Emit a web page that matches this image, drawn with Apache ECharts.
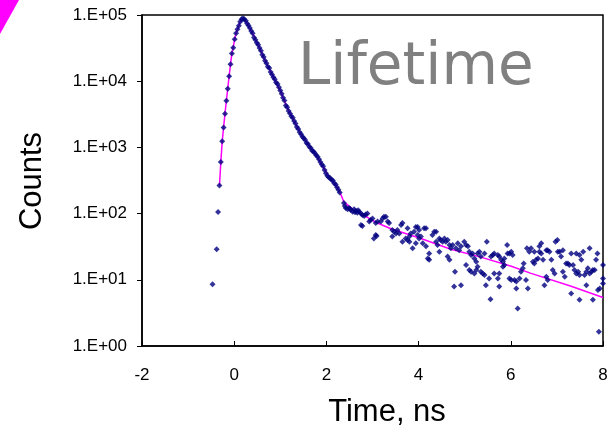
<!DOCTYPE html>
<html>
<head>
<meta charset="utf-8">
<script src="https://cdn.jsdelivr.net/npm/echarts@6/dist/echarts.min.js"></script>
<style>
html,body{margin:0;padding:0;background:#fff;}
#chart{width:611px;height:429px;}
</style>
</head>
<body>
<div id="chart"></div>
<script>
// ---- data (time in ns, counts) ----
const risePoints = [
  [-0.47,8.6],[-0.38,29],[-0.35,106],[-0.32,265],[-0.29,600],[-0.26,1235],[-0.23,2000],
  [-0.20,3220],[-0.17,5070],[-0.14,7700],[-0.11,11900],[-0.08,18000],[-0.05,26300],
  [-0.02,32100],[0.01,43000],[0.04,53000],[0.07,60800],[0.10,68900],[0.13,79200],
  [0.16,86100],[0.19,89100],[0.22,86000],[0.25,82000]
];
const decayPoints = [
  [0.28,74100],[0.31,69200],[0.34,63800],[0.37,57500],[0.40,53000],[0.43,45700],[0.46,42300],
  [0.49,38000],[0.52,35400],[0.55,31600],[0.58,28800],[0.61,25100],[0.64,23200],[0.67,20400],
  [0.70,18600],[0.73,16600],[0.76,15800],[0.79,13800],[0.82,12600],[0.85,11500],[0.88,10700],
  [0.91,9550],[0.94,9100],[0.97,8130],[1.00,7240],[1.03,6460],[1.06,5620],[1.09,5100],
  [1.12,4300],[1.15,4050],[1.18,3550],[1.21,3240],[1.24,2950],[1.27,2800],[1.30,2510],
  [1.33,2290],[1.36,2040],[1.39,1900],[1.42,1700],[1.45,1580],[1.48,1450],[1.51,1380],
  [1.54,1290],[1.57,1170],[1.60,1130],[1.63,1020],[1.66,977],[1.69,891],[1.72,870],
  [1.75,813],[1.78,760],[1.81,724],[1.84,661],[1.87,603],[1.90,550],[1.93,520],[1.96,457],
  [1.99,407],[2.02,372],[2.05,355],[2.08,345],[2.11,325],[2.14,316],[2.17,288],[2.20,275],
  [2.23,251],[2.26,229],[2.29,209]
];
const tailPoints = [
  [2.38,145],[2.40,130],[2.42,121],[2.46,116],[2.49,121],[2.51,118],[2.53,113],[2.57,107],
  [2.60,116],[2.62,105],[2.64,110],[2.67,103],[2.69,112],[2.71,107],[2.75,100],[2.75,67],
  [2.78,95],[2.78,65],[2.82,92],[2.85,97],[2.89,100],[2.93,76],[2.96,80],[3.00,84],[3.03,42],
  [3.07,72],[3.07,47.5],[3.09,46],[3.11,76],[3.18,76],[3.22,84],[3.25,90],[3.29,90],[3.33,76],
  [3.36,72],[3.43,56.5],[3.43,45],[3.47,53],[3.51,50],[3.54,56.5],[3.58,50],[3.62,67],[3.65,72],
  [3.65,37.5],[3.72,42],[3.76,40],[3.76,60],[3.80,37.5],[3.80,45],[3.83,50],[3.87,30],[3.90,53],
  [3.94,63],[3.94,35.5],[3.98,63],[3.98,47.5],[4.01,56.5],[4.01,42],[4.05,45],[4.09,35.5],
  [4.12,60],[4.16,60],[4.16,32],[4.20,21],[4.23,20],[4.23,25],[4.30,47.5],[4.34,53],[4.38,53],
  [4.38,37.5],[4.41,33.6],[4.45,42],[4.45,26.5],[4.48,40],[4.52,37.5],[4.56,42],[4.59,37.5],
  [4.63,40],[4.63,22.5],[4.67,33.6],[4.67,20],[4.70,30],
  [4.74,33.6],[4.77,7.9],[4.79,13.2],[4.81,30],[4.85,35.5],[4.88,28],[4.92,32],[4.92,8.3],
  [4.99,37.5],[5.03,33.6],[5.03,16.7],[5.07,32],[5.10,26.5],[5.10,14.1],[5.14,23.7],[5.14,13.2],
  [5.17,25],[5.21,21],[5.21,12.5],[5.25,18.8],[5.25,14.1],[5.28,25],[5.28,15.8],[5.32,26.5],
  [5.35,22.5],[5.35,13.2],[5.39,12.5],[5.43,25],[5.43,11.8],[5.46,8.3],[5.48,37.5],[5.53,10.5],
  [5.56,5.1],[5.57,22.5],[5.61,23.7],[5.64,25],[5.64,12.5],[5.72,23.7],[5.72,10.5],[5.75,22.5],
  [5.75,12.5],[5.75,7.9],[5.79,20],[5.83,18.8],[5.83,15.8],[5.86,16.7],[5.86,21],[5.92,33.6],
  [5.93,25],[5.97,25],[5.97,10.5],[6.01,26.5],[6.01,9.9],[6.04,23.7],[6.08,9.9],[6.12,9.4],
  [6.12,7.4],[6.15,3.7],[6.19,10.5],[6.22,13.2],[6.26,15],[6.28,17.7],
  [6.33,9.9],[6.35,30],[6.37,7.4],[6.40,26.5],[6.44,30],[6.48,18.8],[6.51,26.5],[6.51,17.7],
  [6.55,20],[6.59,21],[6.62,26.5],[6.62,32],[6.66,35.5],[6.66,25],[6.70,20],[6.73,8.3],
  [6.77,28],[6.77,11.1],[6.80,9.9],[6.80,28],[6.84,26.5],[6.88,20],[6.91,14.1],[6.95,12.5],
  [6.97,37.5],[7.01,40],[7.02,26.5],[7.06,26.5],[7.09,22.5],[7.13,28],[7.13,13.2],[7.17,11.1],
  [7.20,17.7],[7.24,17.7],[7.27,16.7],[7.31,25],[7.31,6.2],[7.35,16.7],[7.38,14.1],[7.42,25],
  [7.42,12.5],[7.46,13.2],[7.49,23.7],[7.49,11.8],[7.49,5.0],[7.53,20],[7.57,26.5],[7.60,11.8],
  [7.64,13.2],[7.64,8.3],[7.67,15],[7.71,30],[7.71,12.5],[7.75,13.2],[7.78,14.1],[7.78,5.0],
  [7.82,14.1],[7.85,20],[7.88,25],[7.89,7.0],[7.91,1.64],[7.93,7.4],[8.00,16.7],[8.00,10.5],
  [8.00,8.8]
];
const fitCurve = [
  [-0.32,265],[-0.29,600],[-0.26,1235],[-0.23,2000],[-0.20,3220],[-0.17,5070],[-0.14,7700],
  [-0.11,11900],[-0.08,18000],[-0.05,26300],[-0.02,33000],[0.01,43000],[0.04,53000],
  [0.07,61000],[0.10,69000],[0.13,79000],[0.16,86000],[0.19,88500],[0.22,86000],[0.28,75000],
  [0.40,52500],[0.55,31600],[0.70,18600],[0.85,11500],[1.00,7200],[1.15,4000],[1.30,2500],
  [1.45,1580],[1.60,1120],[1.75,810],[1.90,550],[2.05,360],[2.20,270],[2.30,205],[2.38,150],
  [2.60,112],[2.89,88],[3.07,74],[3.40,59],[4.05,42],[4.70,29],[5.35,22],[6.01,16],
  [6.44,12.5],[7.31,8],[8.00,5.4]
];
const yTickLabels = ['1.E+00','1.E+01','1.E+02','1.E+03','1.E+04','1.E+05'];
const xTickValues = [-2, 0, 2, 4, 6, 8];
const titleText = 'Lifetime';
const xName = 'Time, ns';
const yName = 'Counts';

const tickFont = '"Liberation Sans", Arial, sans-serif';
const chart = echarts.init(document.getElementById('chart'), null, {renderer: 'canvas'});
chart.setOption({
  animation: false,
  backgroundColor: '#ffffff',
  grid: {left: 142, right: 8, top: 15, bottom: 83, show: true, borderColor: '#000', borderWidth: 1.5, backgroundColor: 'transparent'},
  xAxis: {
    type: 'value', min: xTickValues[0], max: xTickValues[xTickValues.length - 1], interval: 2,
    axisLine: {show: true, onZero: false, lineStyle: {color: '#000', width: 1.5}},
    axisTick: {show: true, inside: true, length: 5, lineStyle: {color: '#000', width: 1}},
    axisLabel: {color: '#000', fontSize: 17, fontFamily: tickFont, margin: 21},
    splitLine: {show: false}
  },
  yAxis: {
    type: 'log', logBase: 10, min: 1, max: 100000, splitNumber: 5,
    axisLine: {show: true, onZero: false, lineStyle: {color: '#000', width: 1.5}},
    axisTick: {show: true, inside: false, length: 5, lineStyle: {color: '#000', width: 1}},
    axisLabel: {color: '#000', fontSize: 17, fontFamily: tickFont, margin: 15,
      formatter: v => yTickLabels[Math.round(Math.log10(v))]},
    splitLine: {show: false},
    minorTick: {show: false}
  },
  series: [
    {type: 'line', data: fitCurve, symbol: 'none', smooth: false,
      lineStyle: {color: '#FF00FF', width: 1.5}, z: 2},
    {type: 'scatter', data: risePoints.concat(decayPoints, tailPoints), symbol: 'diamond', symbolSize: 6,
      itemStyle: {color: '#000080'}, z: 3, clip: false}
  ],
  graphic: [
    {type: 'polygon', shape: {points: [[0,0],[19,0],[0,34]]}, style: {fill: '#FF00FF'}},
    {type: 'text', x: 298, y: 69, style: {text: titleText, fill: '#808080', font: '58px "DejaVu Sans"', verticalAlign: 'middle', align: 'left'}},
    {type: 'text', x: 387, y: 412, style: {text: xName, fill: '#000', font: '31px "Liberation Sans"', verticalAlign: 'middle', align: 'center'}},
    {type: 'text', x: 32.5, y: 181, rotation: Math.PI / 2, style: {text: yName, fill: '#000', font: '31px "Liberation Sans"', verticalAlign: 'middle', align: 'center'}}
  ]
});
</script>
</body>
</html>
